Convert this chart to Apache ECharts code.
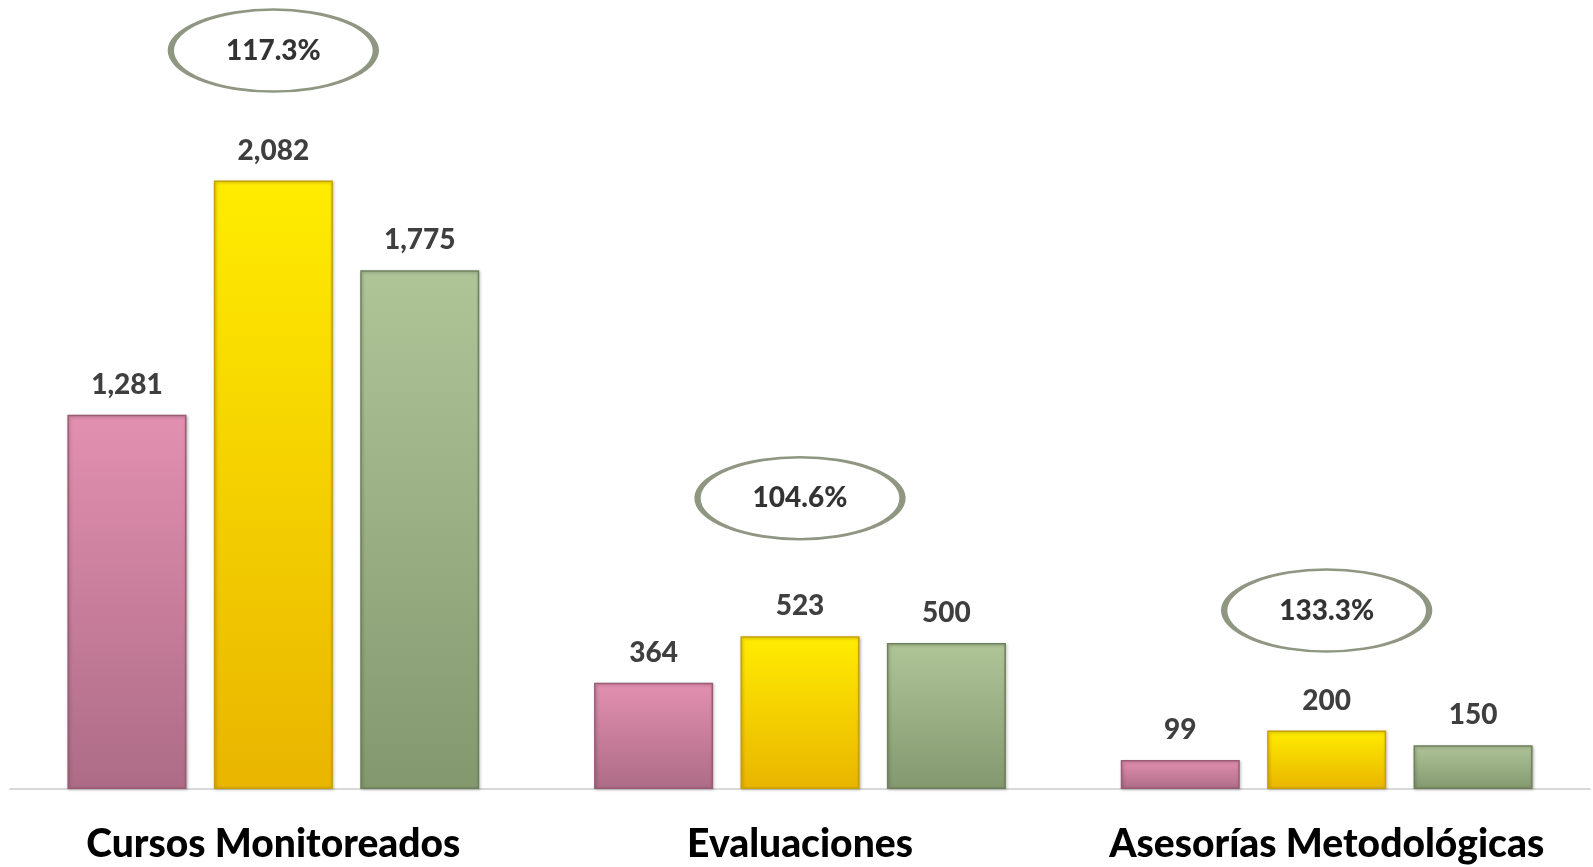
<!DOCTYPE html>
<html>
<head>
<meta charset="utf-8">
<script src="https://cdn.jsdelivr.net/npm/echarts@6/dist/echarts.min.js"></script>
<style>
html,body{margin:0;padding:0;background:#fff;}
#chart{width:1593px;height:867px;}
</style>
</head>
<body>
<div id="chart"></div>
<script>
const categories = ['Cursos Monitoreados', 'Evaluaciones', 'Asesorías Metodológicas'];
const seriesPink = [1281, 364, 99];
const seriesYellow = [2082, 523, 200];
const seriesGreen = [1775, 500, 150];
const percentLabels = ['117.3%', '104.6%', '133.3%'];

const chart = echarts.init(document.getElementById('chart'));

// pixel lift of each ellipse callout above its yellow bar (styling only)
const calloutLift = [130, 138, 120];

function grad(top, bottom) {
  return new echarts.graphic.LinearGradient(0, 0, 0, 1, [
    { offset: 0, color: top },
    { offset: 1, color: bottom }
  ]);
}

const labelStyle = {
  show: true,
  position: 'top',
  distance: 16,
  fontFamily: 'Lato',
  fontWeight: 900,
  fontSize: 28,
  color: '#3F3F3F',
  formatter: p => p.value.toLocaleString('en-US')
};

function barSeries(name, data, top, bottom, border) {
  return {
    name: name,
    type: 'bar',
    data: data,
    barWidth: '22.6%',
    barGap: '23%',
    itemStyle: {
      color: grad(top, bottom),
      borderColor: border,
      borderWidth: 1.5,
      shadowColor: 'rgba(0,0,0,0.25)',
      shadowBlur: 3,
      shadowOffsetX: 1,
      shadowOffsetY: 1
    },
    label: labelStyle,
    emphasis: { disabled: true },
    z: 2
  };
}

chart.setOption({
  animation: false,
  backgroundColor: '#ffffff',
  grid: { left: 10, right: 3, top: 0, bottom: 78, containLabel: false },
  xAxis: {
    type: 'category',
    data: categories,
    axisLine: { show: true, lineStyle: { color: '#D9D9D9', width: 2 } },
    axisTick: { show: false },
    axisLabel: {
      margin: 36,
      fontFamily: 'Lato',
      fontWeight: 900,
      fontSize: 39,
      color: '#000000',
      interval: 0
    }
  },
  yAxis: {
    type: 'value',
    min: 0,
    max: 2700,
    show: false,
    splitLine: { show: false }
  },
  series: [
    barSeries('Programado', seriesPink, '#E390B0', '#AD6C86', '#9A5C74'),
    barSeries('Realizado', seriesYellow, '#FFEC00', '#E9B500', '#C9A000'),
    barSeries('Meta', seriesGreen, '#AFC598', '#84986F', '#6F805D'),
    {
      name: 'Porcentaje',
      type: 'scatter',
      data: seriesYellow.map((v, i) => ({ value: v, symbolOffset: [0, -calloutLift[i]] })),
      symbol: 'circle',
      symbolSize: [205, 82],
      itemStyle: {
        color: '#ffffff',
        borderColor: '#737D64',
        borderWidth: 4
      },
      label: {
        show: true,
        position: 'inside',
        fontFamily: 'Lato',
        fontWeight: 900,
        fontSize: 28,
        color: '#000000',
        formatter: p => percentLabels[p.dataIndex]
      },
      emphasis: { disabled: true },
      z: 5
    }
  ]
});
</script>
</body>
</html>
